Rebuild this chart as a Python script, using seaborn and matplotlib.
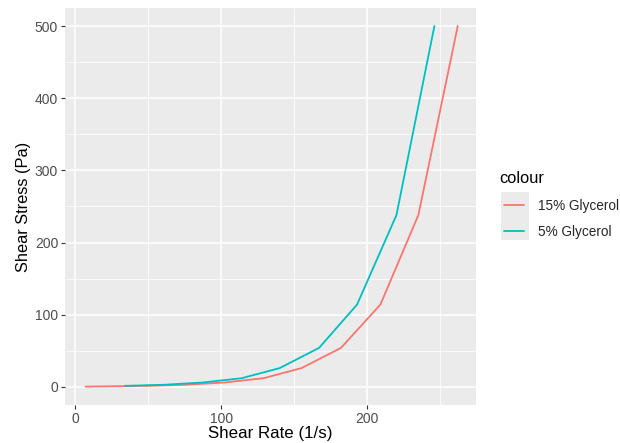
import matplotlib
matplotlib.use("Agg")
import matplotlib.pyplot as plt
import seaborn as sns
import pandas as pd
from matplotlib.ticker import MultipleLocator
from matplotlib.patches import Rectangle

# datos
tasa_15 = [7, 22, 49, 75, 102, 129, 155, 182, 209, 235, 262]
esfuerzo_15 = [0.3, 0.7, 1.4, 2.9, 6, 12, 26, 54, 114, 238, 500]
tasa_5 = [34, 61, 87, 114, 140, 167, 193, 220, 246]
esfuerzo_5 = [1.4, 2.9, 6, 12, 26, 54, 114, 238, 500]
grupos = ["15% Glycerol", "5% Glycerol"]
colores = {"15% Glycerol": "#F8766D", "5% Glycerol": "#00BFC4"}

df = pd.concat([
    pd.DataFrame({"rate": tasa_15, "stress": esfuerzo_15, "colour": grupos[0]}),
    pd.DataFrame({"rate": tasa_5, "stress": esfuerzo_5, "colour": grupos[1]}),
])

sns.set_theme(style="darkgrid", rc={
    "axes.facecolor": "#EBEBEB",
    "grid.color": "white",
    "axes.edgecolor": "#EBEBEB",
})
plt.rcParams["font.family"] = ["Liberation Sans", "DejaVu Sans"]

fig = plt.figure(figsize=(6.2, 4.43), dpi=100)
ax = fig.add_axes([0.105, 0.086, 0.663, 0.896])

sns.lineplot(data=df, x="rate", y="stress", hue="colour", palette=colores,
             hue_order=grupos, sort=False, linewidth=1.3, ax=ax, legend=False)

ax.set_xlim(-7, 274.6)
ax.set_ylim(-25, 525)
ax.xaxis.set_major_locator(MultipleLocator(100))
ax.yaxis.set_major_locator(MultipleLocator(100))
ax.xaxis.set_minor_locator(MultipleLocator(50))
ax.yaxis.set_minor_locator(MultipleLocator(50))
ax.grid(which="major", color="white", linewidth=1.1)
ax.grid(which="minor", color="white", linewidth=0.55)
for s in ax.spines.values():
    s.set_visible(False)
ax.tick_params(which="major", length=3, width=0.8, color="#333333",
               labelcolor="#4D4D4D", labelsize=10, pad=2, bottom=True, left=True)
ax.tick_params(which="minor", length=0)
ax.set_xlabel("Shear Rate (1/s)", fontsize=12.2, color="black", labelpad=0)
ax.set_ylabel("Shear Stress (Pa)", fontsize=11.8, color="black", labelpad=3)

# fondo gris de las claves (como ggplot)
fig.patches.append(Rectangle((0.808, 0.458), 0.046, 0.108, transform=fig.transFigure,
                             facecolor="#EBEBEB", edgecolor="none", zorder=0))

# leyenda estilo ggplot (titulo aparte)
fig.text(0.806, 0.597, "colour", fontsize=11.8, color="black", va="center", ha="left")
manejadores = [plt.Line2D([], [], color=colores[g], linewidth=1.3) for g in grupos]
fig.legend(manejadores, grupos, loc="upper left",
           bbox_to_anchor=(0.793, 0.578), frameon=False, fontsize=9.8,
           handlelength=1.5, handletextpad=1.0, labelspacing=0.85)

fig.savefig("out.png", dpi=100)
